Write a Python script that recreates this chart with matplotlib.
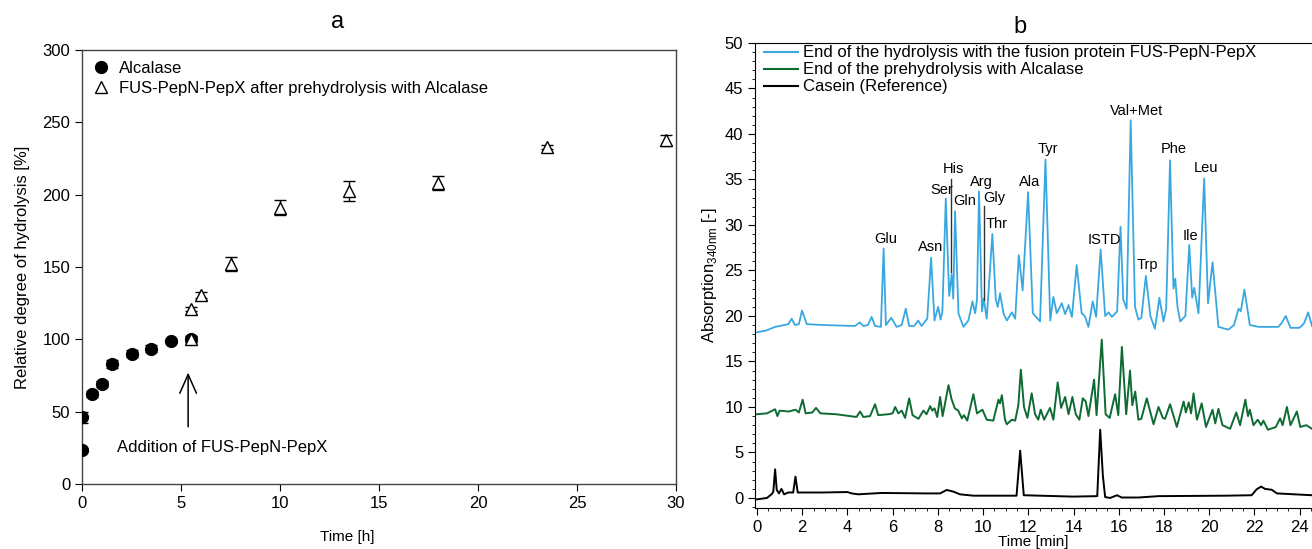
import matplotlib
matplotlib.use("Agg")
import matplotlib.pyplot as plt
from matplotlib.lines import Line2D
from matplotlib.ticker import MultipleLocator

plt.rcParams['font.family'] = ['Liberation Sans', 'DejaVu Sans']
plt.rcParams['mathtext.fontset'] = 'custom'
plt.rcParams['mathtext.rm'] = 'Liberation Sans'

# ---------------- Panel a data ----------------
alc_t = [0, 0, 0.5, 1, 1.5, 2.5, 3.5, 4.5, 5.5]
alc_y = [23.5, 46, 62, 69, 83, 90, 93.5, 99, 100]
alc_err = [1.5, 4, 2, 2, 2.5, 2.5, 2.5, 1.5, 2]

fus_t = [5.5, 5.5, 6, 7.5, 10, 13.5, 18, 23.5, 29.5]
fus_y = [100, 121, 130.5, 152, 191, 202.5, 208, 233, 237.5]
fus_err = [2, 1.5, 2, 5, 5, 7, 5, 1.5, 4]

alc_label = "Alcalase"
fus_label = "FUS-PepN-PepX after prehydrolysis with Alcalase"
arrow_text = "Addition of FUS-PepN-PepX"

# ---------------- Panel b data ----------------
blue_t = [0, 0.4, 0.8, 1.2, 1.39, 1.53, 1.68, 1.85, 1.99, 2.2, 3.0, 4.33, 4.55, 4.7, 4.9, 5.07, 5.22, 5.48,
          5.6, 5.7, 5.94, 6.17, 6.4, 6.58, 6.73, 6.95, 7.13, 7.28, 7.53, 7.7, 7.85, 8.01, 8.12, 8.2, 8.35,
          8.5, 8.61, 8.68, 8.76, 8.91, 9.13, 9.35, 9.53, 9.65, 9.73, 9.82, 9.95, 10.03, 10.16, 10.41,
          10.56, 10.65, 10.75, 10.9, 11.05, 11.27, 11.42, 11.58, 11.75, 11.99, 12.2, 12.52, 12.76, 12.97,
          13.11, 13.26, 13.48, 13.63, 13.78, 13.93, 14.14, 14.36, 14.5, 14.66, 14.85, 15.0, 15.2, 15.4,
          15.55, 15.7, 15.93, 16.08, 16.2, 16.35, 16.53, 16.72, 16.87, 17.0, 17.2, 17.4, 17.6, 17.8,
          17.98, 18.1, 18.27, 18.42, 18.5, 18.6, 18.72, 18.95, 19.12, 19.25, 19.34, 19.53, 19.78, 19.95,
          20.15, 20.41, 20.85, 21.1, 21.3, 21.4, 21.56, 21.8, 22.2, 23.06, 23.2, 23.39, 23.6, 24.0,
          24.2, 24.38, 24.55]
blue_y = [18.2, 18.4, 18.8, 19.0, 19.1, 19.7, 19.0, 19.1, 20.6, 19.1, 19.0, 18.9, 19.3, 18.9, 19.0, 19.9, 18.9, 18.8,
          27.4, 19.0, 19.8, 18.8, 19.0, 20.8, 18.9, 18.9, 19.5, 18.9, 19.7, 26.4, 19.5, 21.0, 19.6, 20.5, 32.9,
          22.2, 24.6, 21.9, 31.5, 20.3, 18.8, 19.5, 21.6, 20.3, 21.8, 33.7, 20.5, 21.9, 19.7, 29.0,
          21.8, 21.0, 22.5, 20.3, 19.5, 20.4, 19.7, 26.7, 22.8, 33.6, 20.3, 19.4, 37.2, 19.5,
          22.1, 20.3, 21.4, 20.2, 21.2, 19.9, 25.6, 20.3, 20.0, 18.8, 21.6, 19.9, 27.3, 20.0,
          20.4, 19.9, 20.5, 29.8, 21.8, 20.8, 41.5, 21.0, 19.6, 19.8, 24.4, 20.0, 18.6, 22.0,
          19.4, 20.8, 37.1, 23.0, 24.1, 21.0, 19.4, 20.0, 27.8, 22.0, 23.1, 20.3, 35.1, 21.4,
          25.9, 18.8, 18.5, 19.0, 20.8, 20.5, 22.9, 19.0, 18.8, 18.8, 19.2, 20.0, 18.7, 18.7,
          19.2, 20.4, 18.9]

green_t = [0, 0.44, 0.8, 0.9, 1.0, 1.4, 1.7, 1.85, 2.02, 2.15, 2.45, 2.61, 2.8, 3.5, 4.1, 4.4, 4.56, 4.7, 5.0,
           5.22, 5.36, 5.8, 6.0, 6.11, 6.25, 6.4, 6.55, 6.73, 6.88, 7.14, 7.36, 7.5, 7.66, 7.75, 7.85, 7.97,
           8.1, 8.21, 8.47, 8.6, 8.75, 8.9, 9.06, 9.15, 9.3, 9.57, 9.73, 9.97, 10.16, 10.45, 10.68, 10.75,
           10.83, 10.97, 11.05, 11.27, 11.42, 11.56, 11.67, 11.81, 11.96, 12.15, 12.3, 12.44, 12.55, 12.7,
           12.96, 13.11, 13.3, 13.45, 13.63, 13.78, 13.95, 14.1, 14.26, 14.41, 14.54, 14.66, 14.91, 15.02,
           15.25, 15.42, 15.6, 15.84, 15.98, 16.14, 16.33, 16.5, 16.6, 16.73, 16.87, 17.0, 17.24, 17.54,
           17.76, 17.95, 18.05, 18.27, 18.57, 18.87, 18.97, 19.1, 19.2, 19.31, 19.46, 19.67, 19.86, 20.15,
           20.27, 20.41, 20.59, 20.93, 21.2, 21.37, 21.6, 21.72, 21.8, 21.96, 22.15, 22.3, 22.4, 22.6,
           22.95, 23.14, 23.25, 23.44, 23.6, 23.88, 24.03, 24.3, 24.55]
green_y = [9.2, 9.3, 9.75, 9.0, 9.6, 9.5, 9.7, 9.4, 10.8, 9.3, 9.4, 9.9, 9.3, 9.2, 9.0, 8.9, 9.5, 8.9, 9.0,
           10.3, 9.1, 9.2, 9.3, 10.0, 9.3, 9.6, 8.8, 10.95, 9.1, 8.7, 9.6, 9.2, 10.1, 9.6, 9.85, 8.9,
           11.1, 9.0, 12.4, 10.9, 9.85, 9.6, 8.75, 9.1, 8.5, 11.4, 9.3, 9.7, 8.6, 8.5, 10.8, 10.4,
           11.3, 8.6, 8.1, 8.6, 8.5, 10.2, 14.1, 10.0, 8.8, 11.5, 9.2, 8.6, 9.7, 8.6,
           9.9, 8.6, 12.7, 9.9, 11.1, 9.2, 11.1, 9.2, 8.6, 10.95, 10.6, 9.0, 13.0, 9.1,
           17.4, 9.2, 8.8, 11.4, 9.1, 16.6, 9.2, 14.0, 10.2, 11.7, 8.6, 8.7, 10.95, 8.1,
           10.0, 8.8, 8.7, 10.3, 7.8, 10.6, 9.4, 10.5, 9.3, 11.5, 8.6, 10.4, 7.8, 9.7,
           8.2, 9.8, 8.0, 7.6, 9.4, 8.0, 10.8, 9.0, 9.7, 8.0, 8.6, 8.0, 8.5, 7.5,
           7.8, 8.75, 8.0, 10.0, 8.0, 9.5, 7.8, 8.0, 7.6]

black_t = [0, 0.44, 0.66, 0.72, 0.8, 0.87, 0.97, 1.08, 1.2, 1.38, 1.6, 1.7, 1.8, 2.86, 4.0, 4.19, 4.48, 5.5,
           7.5, 8.1, 8.39, 8.68, 8.98, 9.57, 11.48, 11.64, 11.8, 13.97, 15.05, 15.18, 15.3, 15.4, 15.62,
           15.92, 16.13, 16.87, 17.76, 20.71, 21.88, 22.1, 22.3, 22.47, 22.77, 23.0, 24.55]
black_y = [-0.15, 0.0, 0.45, 0.7, 3.15, 0.9, 0.5, 1.0, 0.4, 0.6, 0.6, 2.35, 0.6, 0.6, 0.65, 0.5, 0.4, 0.55,
           0.5, 0.5, 0.88, 0.7, 0.4, 0.25, 0.25, 5.2, 0.3, 0.15, 0.2, 7.5, 2.4, 0.1, 0.0,
           0.3, 0.05, 0.05, 0.2, 0.25, 0.3, 0.95, 1.25, 1.0, 0.9, 0.5, 0.3]

blue_label = "End of the hydrolysis with the fusion protein FUS-PepN-PepX"
green_label = "End of the prehydrolysis with Alcalase"
black_label = "Casein (Reference)"

peak_names = ["Glu", "Asn", "Ser", "His", "Gln", "Arg", "Gly", "Thr", "Ala", "Tyr",
              "ISTD", "Val+Met", "Trp", "Phe", "Ile", "Leu"]
peak_label_t = [5.71, 7.68, 8.19, 8.68, 9.2, 9.91, 10.5, 10.58, 12.05, 12.86,
                15.35, 16.77, 17.26, 18.42, 19.17, 19.85]
peak_label_y = [28.5, 27.6, 33.8, 36.1, 32.6, 34.7, 33.0, 30.1, 34.7, 38.3,
                28.3, 42.5, 25.6, 38.3, 28.8, 36.3]
# marker lines (His, Gly)
mark_t = [8.58, 10.03]
mark_y0 = [24.8, 21.8]
mark_y1 = [35.0, 32.1]

# ---------------- Figure ----------------
W, H = 1312, 549
fig = plt.figure(figsize=(W / 100, H / 100), dpi=100)

def frac(x0, y0, x1, y1):
    return [x0 / W, 1 - y1 / H, (x1 - x0) / W, (y1 - y0) / H]

# Panel a
ax1 = fig.add_axes(frac(82, 50, 676, 484))
ax1.errorbar(alc_t, alc_y, yerr=alc_err, fmt='o', color='black', ms=8.5,
             capsize=4.5, elinewidth=1, capthick=1, zorder=3)
ax1.errorbar(fus_t, fus_y, yerr=fus_err, fmt='^', mfc='white', mec='black', ms=8,
             mew=1, ecolor='black', capsize=4.5, elinewidth=1, capthick=1, zorder=4)
ax1.set_xlim(0, 30)
ax1.set_ylim(0, 300)
ax1.xaxis.set_major_locator(MultipleLocator(5))
ax1.yaxis.set_major_locator(MultipleLocator(50))
ax1.tick_params(direction='out', length=5, labelsize=12, top=False, right=False)
ax1.set_xlabel("Time [h]", fontsize=11)
ax1.xaxis.set_label_coords(0.446, -0.105)
ax1.set_ylabel("Relative degree of hydrolysis [%]", fontsize=12, labelpad=9)
ax1.set_title("a", fontsize=17, pad=16, x=0.43)
for s in ax1.spines.values():
    s.set_linewidth(1)
    s.set_color('#444444')
ax1.annotate("", xy=(5.36, 77), xytext=(5.36, 39.6),
             arrowprops=dict(arrowstyle='->,head_length=0.9,head_width=0.4', lw=1.1,
                             color='black', mutation_scale=15, shrinkA=0, shrinkB=0))
ax1.text(1.77, 25, arrow_text, fontsize=12, va='center', ha='left')
h1 = Line2D([], [], ls='none', marker='o', color='black', ms=8.5)
h2 = Line2D([], [], ls='none', marker='^', mfc='white', mec='black', ms=8)
ax1.legend([h1, h2], [alc_label, fus_label], loc='upper left', frameon=False,
           fontsize=12, bbox_to_anchor=(-0.008, 1.006), handlelength=1.2,
           handletextpad=0.5, labelspacing=0.3, borderpad=0.3)

# Panel b
ax2 = fig.add_axes(frac(755, 43, 1312, 507.7))
ax2.plot(black_t, black_y, color='black', lw=1.4, label=black_label, zorder=2)
ax2.plot(green_t, green_y, color='#0d6b33', lw=1.4, label=green_label, zorder=2)
ax2.plot(blue_t, blue_y, color='#3aa8e0', lw=1.3, label=blue_label, zorder=3)
for t, y0, y1 in zip(mark_t, mark_y0, mark_y1):
    ax2.plot([t, t], [y0, y1], color='#333333', lw=1.0, zorder=4)
for name, t, y in zip(peak_names, peak_label_t, peak_label_y):
    ax2.text(t, y, name, fontsize=10.5, ha='center', va='center', zorder=5)
ax2.set_xlim(-0.09, 24.55)
ax2.set_ylim(-1.07, 50)
ax2.xaxis.set_major_locator(MultipleLocator(2))
ax2.xaxis.set_minor_locator(MultipleLocator(0.5))
ax2.yaxis.set_major_locator(MultipleLocator(5))
ax2.yaxis.set_minor_locator(MultipleLocator(1))
ax2.tick_params(which='major', direction='out', length=5, labelsize=12, top=False, right=False)
ax2.tick_params(which='minor', direction='out', length=2.5, top=False, right=False)
ax2.spines['right'].set_visible(False)
ax2.set_xlabel("Time [min]", fontsize=11, labelpad=0)
ax2.set_ylabel("Absorption$_{\\mathrm{340nm}}$ [-]", fontsize=12, labelpad=4)
ax2.set_title("b", fontsize=17, pad=7, x=0.476)
hb = [Line2D([], [], color='#3aa8e0', lw=1.5), Line2D([], [], color='#0d6b33', lw=1.5),
      Line2D([], [], color='black', lw=1.5)]
ax2.legend(hb, [blue_label, green_label, black_label], loc='upper left', frameon=False,
           fontsize=12, bbox_to_anchor=(-0.004, 1.02), handlelength=2.0,
           handletextpad=0.3, labelspacing=0.12, borderpad=0.2)

fig.savefig("out.png", dpi=100)
